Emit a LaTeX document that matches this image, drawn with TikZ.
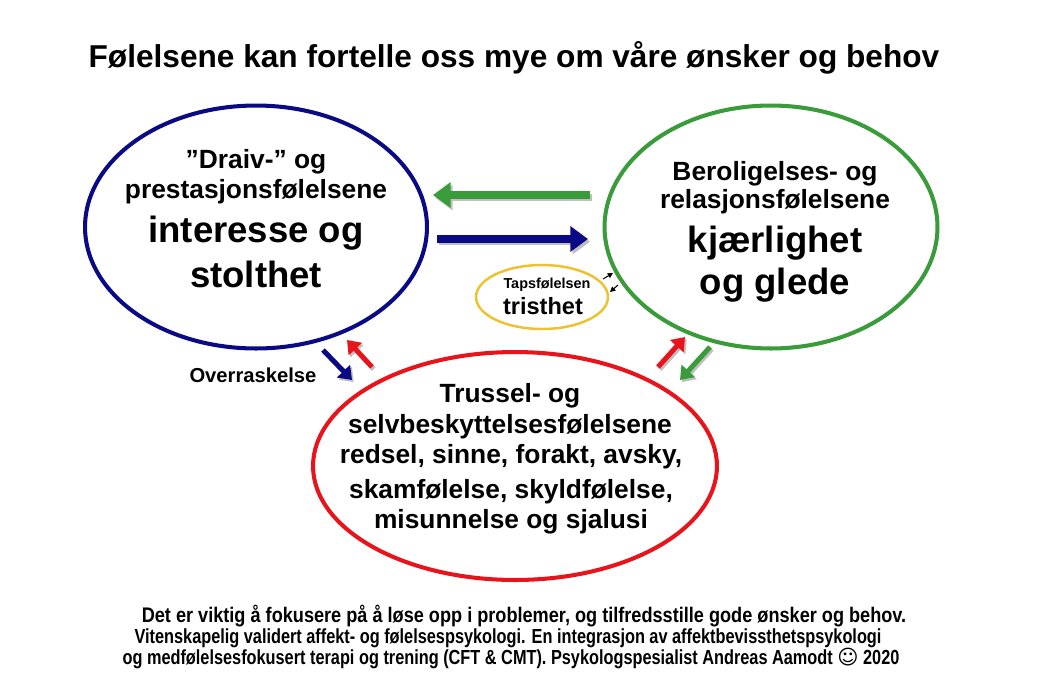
\documentclass[tikz,border=0pt]{standalone}
\usepackage{fontspec}
\setmainfont{Liberation Sans}
\newfontfamily\narrowfont[FakeStretch=0.86]{Liberation Sans}
\newfontfamily\tightfont[FakeStretch=0.80]{Liberation Sans}
\newfontfamily\symfont{DejaVu Sans}
\usetikzlibrary{positioning,arrows.meta,shapes.geometric}
\definecolor{drvblue}{HTML}{0A0A85}
\definecolor{relgreen}{HTML}{3A9B3A}
\definecolor{thrred}{HTML}{E8141B}
\definecolor{lossyellow}{HTML}{EEC22E}

\begin{document}
\begin{tikzpicture}[x=0.02cm, y=-0.02cm,
    emo/.style={ellipse, draw, line width=2.3pt, inner sep=0pt},
    mid/.style={anchor=base, font=\fontsize{15}{18}\selectfont\bfseries},
    big/.style={anchor=base, font=\fontsize{20.8}{25}\selectfont\bfseries},
    footwide/.style={anchor=base, font=\fontsize{12}{14}\selectfont\narrowfont\bfseries},
    foot/.style={anchor=base, font=\fontsize{11.6}{14}\selectfont\tightfont\bfseries},
    bigarrow/.style={line width=4pt, -{Triangle[length=10pt,width=14pt]},
        preaction={draw=black!25, line width=4pt, -{Triangle[length=10pt,width=14pt]}, transform canvas={shift={(1.2pt,-1.5pt)}}}},
    diagarrow/.style={line width=2.8pt, -{Triangle[length=7pt,width=10pt]},
        preaction={draw=black!25, line width=2.8pt, -{Triangle[length=7pt,width=10pt]}, transform canvas={shift={(1pt,-1.2pt)}}}},
    tinyarrow/.style={line width=0.6pt, -{Triangle[length=3pt,width=3pt]}},
]
\fill[white] (0,0) rectangle (1043,697);
\useasboundingbox (0,0) rectangle (1043,697);

\node[anchor=base, font=\fontsize{18}{22}\selectfont\bfseries] (title) at (514,67) {Følelsene kan fortelle oss mye om våre ønsker og behov};

% the three systems and the loss feeling
\node[emo, draw=drvblue, minimum width=6.84cm, minimum height=4.86cm] (drive) at (256,227) {};
\node[emo, draw=relgreen, minimum width=6.66cm, minimum height=4.86cm] (calm) at (771,227) {};
\node[emo, draw=thrred, minimum width=8.08cm, minimum height=4.56cm] (threat) at (515,466) {};
\node[emo, draw=lossyellow, line width=1.4pt, minimum width=2.64cm, minimum height=1.28cm] (loss) at (542,297) {};

\node[mid] (driveA) at (256,168) {”Draiv-” og};
\node[mid] (driveB) at (256,198) {prestasjonsfølelsene};
\node[big] (driveC) at (256,242) {interesse og};
\node[big] (driveD) at (256,287) {stolthet};

\node[mid] (calmA) at (775,180) {Beroligelses- og};
\node[mid] (calmB) at (775,208) {relasjonsfølelsene};
\node[big] (calmC) at (775,252) {kjærlighet};
\node[big] (calmD) at (775,294) {og glede};

\node[mid] (threatA) at (510,402) {Trussel- og};
\node[mid] (threatB) at (510,433) {selvbeskyttelsesfølelsene};
\node[mid] (threatC) at (511,463) {redsel, sinne, forakt, avsky,};
\node[mid] (threatD) at (511,498) {skamfølelse, skyldfølelse,};
\node[mid] (threatE) at (511,528) {misunnelse og sjalusi};

\node[anchor=base, font=\fontsize{8.2}{10}\selectfont\bfseries] (lossA) at (547,288) {Tapsfølelsen};
\node[anchor=base, font=\fontsize{13.4}{16}\selectfont\bfseries] (lossB) at (543,314) {tristhet};

\node[anchor=base, font=\fontsize{11.5}{14}\selectfont\bfseries] (surprise) at (253,382) {Overraskelse};

% arrows between the systems
\coordinate (gS) at (590,195); \coordinate (gE) at (433,195);
\coordinate (bS) at (437,239); \coordinate (bE) at (588,239);
\draw[bigarrow, relgreen] (gS) -- (gE);
\draw[bigarrow, drvblue] (bS) -- (bE);

\coordinate (dtS) at (323,350); \coordinate (dtE) at (352,380);
\coordinate (tdS) at (372,367); \coordinate (tdE) at (347,340);
\draw[diagarrow, drvblue] (dtS) -- (dtE);
\draw[diagarrow, thrred] (tdS) -- (tdE);

\coordinate (tcS) at (658,367); \coordinate (tcE) at (685,337);
\coordinate (ctS) at (710,347); \coordinate (ctE) at (680,380);
\draw[diagarrow, thrred] (tcS) -- (tcE);
\draw[diagarrow, relgreen] (ctS) -- (ctE);

\coordinate (lcS) at (603,279); \coordinate (lcE) at (613,273);
\coordinate (clS) at (618,285); \coordinate (clE) at (610,292);
\draw[tinyarrow] (lcS) -- (lcE);
\draw[tinyarrow] (clS) -- (clE);

% footer
\node[footwide] (footA) at (524,622) {Det er viktig å fokusere på å løse opp i problemer, og tilfredsstille gode ønsker og behov.};
\node[foot] (footB) at (508,643) {Vitenskapelig validert affekt- og følelsespsykologi. En integrasjon av affektbevissthetspsykologi};
\node[foot] (footC) at (511,664) {og medfølelsesfokusert terapi og trening (CFT \& CMT). Psykologspesialist Andreas Aamodt {\symfont ☺} 2020};
\end{tikzpicture}
\end{document}
